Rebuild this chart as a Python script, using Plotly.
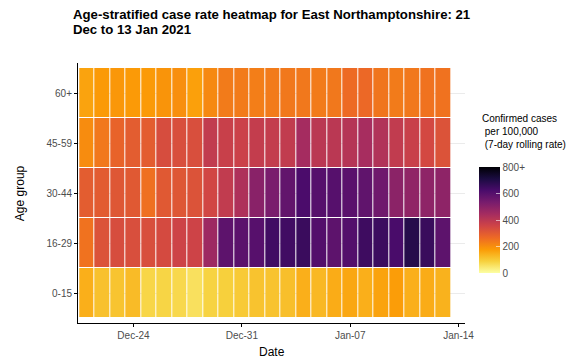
import pandas as pd
import plotly.graph_objects as go

dates = pd.date_range("2020-12-21", "2021-01-13", freq="D")
age_groups = ["0-15", "16-29", "30-44", "45-59", "60+"]

rate_0_15 = [145, 115, 110, 125, 80, 82, 75, 60, 85, 90, 100, 112, 112, 118, 145, 130, 150, 158, 145, 165, 175, 145, 150, 140]
rate_16_29 = [250, 320, 335, 330, 330, 340, 360, 360, 460, 585, 590, 598, 640, 640, 652, 605, 585, 605, 645, 648, 625, 690, 655, 585]
rate_30_44 = [295, 300, 310, 305, 255, 305, 310, 320, 350, 385, 425, 500, 530, 575, 620, 600, 600, 592, 580, 550, 495, 485, 490, 490]
rate_45_59 = [205, 240, 280, 295, 295, 335, 330, 330, 385, 370, 365, 380, 380, 385, 445, 400, 400, 410, 440, 420, 385, 370, 345, 320]
rate_60_plus = [165, 180, 185, 180, 180, 190, 200, 170, 210, 235, 235, 230, 235, 240, 240, 235, 240, 265, 270, 245, 235, 240, 250, 250]

z = [rate_0_15, rate_16_29, rate_30_44, rate_45_59, rate_60_plus]

tick_dates = ["2020-12-24", "2020-12-31", "2021-01-07", "2021-01-14"]
tick_labels = ["Dec-24", "Dec-31", "Jan-07", "Jan-14"]
cbar_vals = [0, 200, 400, 600, 800]
cbar_text = ["0", "200", "400", "600", "800+"]

title_lines = ["Age-stratified case rate heatmap for East Northamptonshire: 21", "Dec to 13 Jan 2021"]
legend_title = "Confirmed cases<br> per 100,000<br> (7-day rolling rate)"

FONT = "Liberation Sans, Arial, sans-serif"

# The page body has an 8px default margin: the figure is drawn 8px in from
# the top-left, so it is sized to fill the rest of the 585x362 window.
OFF = 8
FIG_W, FIG_H = 585 - OFF, 362 - OFF

# plot area in window pixels
L, R, T, B = 78, 465, 63, 322.7
W, H = R - L, B - T


def px(xp):
    return (xp - L) / W


def py(yp):
    return (B - yp) / H


fig = go.Figure(go.Heatmap(
    x=dates, y=age_groups, z=z,
    colorscale="Inferno_r", zmin=0, zmax=800,
    xgap=1, ygap=1,
    colorbar=dict(
        x=px(479), xanchor="left", xref="paper",
        y=py(220), yanchor="middle",
        len=106, lenmode="pixels", thickness=21,
        outlinewidth=0, xpad=0, ypad=0,
        tickvals=cbar_vals, ticktext=cbar_text,
        ticks="inside", ticklen=4, tickcolor="rgba(255,255,255,0.6)", tickwidth=1,
        tickfont=dict(family=FONT, size=10, color="#4d4d4d"),
    ),
))

annotations = [
    dict(text="<b>" + title_lines[0] + "</b>", x=px(71), y=py(15), xanchor="left", yanchor="middle",
         font=dict(family=FONT, size=13.2, color="black")),
    dict(text="<b>" + title_lines[1] + "</b>", x=px(71), y=py(29.5), xanchor="left", yanchor="middle",
         font=dict(family=FONT, size=13.2, color="black")),
    dict(text=legend_title, x=px(480), y=py(111), xanchor="left", yanchor="top", align="left",
         font=dict(family=FONT, size=10, color="black")),
    dict(text="Date", x=px(271.5), y=py(352), xanchor="center", yanchor="middle",
         font=dict(family=FONT, size=12, color="black")),
    dict(text="Age group", x=px(20), y=py(193), xanchor="center", yanchor="middle", textangle=-90,
         font=dict(family=FONT, size=12, color="black")),
]
for a in annotations:
    a.update(xref="paper", yref="paper", showarrow=False)

fig.update_layout(
    width=FIG_W, height=FIG_H,
    margin=dict(l=L - OFF, r=585 - R, t=T - OFF, b=362 - B),
    plot_bgcolor="white", paper_bgcolor="white",
    font=dict(family=FONT, color="#4d4d4d"),
    xaxis=dict(
        range=["2020-12-20 10:00", "2021-01-14 10:00"],
        tickvals=tick_dates, ticktext=tick_labels,
        showline=True, linecolor="black", linewidth=1,
        ticks="outside", ticklen=3, tickcolor="black",
        showgrid=False, zeroline=False, automargin=False,
        tickfont=dict(size=10, color="#4d4d4d"),
    ),
    yaxis=dict(
        range=[-0.6, 4.6],
        showline=True, linecolor="black", linewidth=1,
        ticks="outside", ticklen=3, tickcolor="black",
        showgrid=True, gridcolor="#ebebeb", gridwidth=1,
        zeroline=False, automargin=False,
        tickfont=dict(size=10, color="#4d4d4d"),
    ),
    annotations=annotations,
)

fig.write_html("out.html")
